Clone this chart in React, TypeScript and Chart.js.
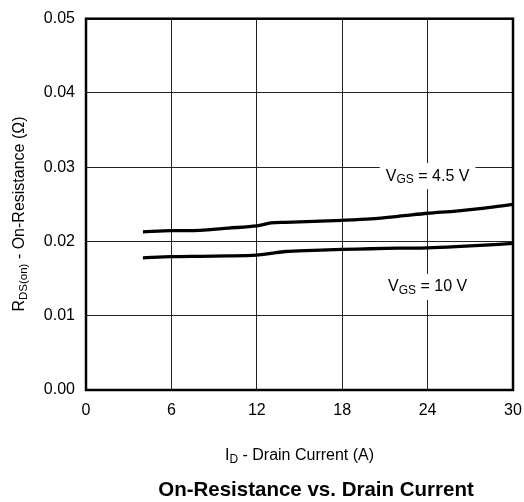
import React, { useEffect, useRef } from "react";
import { Chart, registerables } from "chart.js";

Chart.register(...registerables);

const currentA = [4, 6, 8, 10, 12, 13, 14, 16, 18, 20, 22, 24, 26, 28, 30];
const rds45 = [0.0213, 0.02145, 0.0215, 0.0218, 0.0221, 0.0225, 0.02258, 0.0227, 0.02285, 0.02305, 0.0234, 0.0238, 0.0241, 0.0245, 0.025];
const rds10 = [0.0178, 0.01795, 0.018, 0.01805, 0.01817, 0.0184, 0.01865, 0.0188, 0.01894, 0.01902, 0.0191, 0.01915, 0.0193, 0.0195, 0.01974];
const xTicks = [0, 6, 12, 18, 24, 30];
const yTicks = [0, 0.01, 0.02, 0.03, 0.04, 0.05];
const labelTexts = [
  { main: "V", sub: "GS", rest: " = 4.5 V", x: 24, y: 0.0288 },
  { main: "V", sub: "GS", rest: " = 10 V", x: 24, y: 0.01386 },
];

const FONT = "'Liberation Sans', Arial, Helvetica, sans-serif";

type Part = { t: string; sub?: boolean };

function richWidth(ctx: CanvasRenderingContext2D, parts: Part[], size: number, subSize: number) {
  let w = 0;
  for (const p of parts) {
    ctx.font = `${p.sub ? subSize : size}px ${FONT}`;
    w += ctx.measureText(p.t).width;
  }
  return w;
}

function drawRich(ctx: CanvasRenderingContext2D, parts: Part[], cx: number, cy: number, size: number, subSize: number, subShift: number) {
  const w = richWidth(ctx, parts, size, subSize);
  let x = cx - w / 2;
  ctx.textAlign = "left";
  ctx.textBaseline = "middle";
  ctx.fillStyle = "#000";
  for (const p of parts) {
    ctx.font = `${p.sub ? subSize : size}px ${FONT}`;
    ctx.fillText(p.t, x, p.sub ? cy + subShift : cy);
    x += ctx.measureText(p.t).width;
  }
  return w;
}

const decorPlugin = {
  id: "decor",
  afterDatasetsDraw(chart: any) {
    const ctx: CanvasRenderingContext2D = chart.ctx;
    const { left, right, top, bottom } = chart.chartArea;
    const xs = chart.scales.x;
    const ys = chart.scales.y;
    ctx.save();
    // labels with white boxes
    for (const l of labelTexts) {
      const cx = xs.getPixelForValue(l.x);
      const cy = ys.getPixelForValue(l.y);
      const parts: Part[] = [{ t: l.main }, { t: l.sub, sub: true }, { t: l.rest }];
      const w = richWidth(ctx, parts, 16, 12);
      ctx.fillStyle = "#fff";
      ctx.fillRect(cx - w / 2 - 6, cy - 13, w + 12, 26);
      drawRich(ctx, parts, cx, cy, 16, 12, 4);
    }
    // frame
    ctx.strokeStyle = "#000";
    ctx.lineWidth = 2.5;
    ctx.strokeRect(left, top, right - left, bottom - top);
    // x title
    drawRich(ctx, [{ t: "I" }, { t: "D", sub: true }, { t: " - Drain Current (A)" }], (left + right) / 2, 456, 16, 12, 4);
    // bottom title
    ctx.font = `bold 20.5px ${FONT}`;
    ctx.textAlign = "center";
    ctx.textBaseline = "middle";
    ctx.fillStyle = "#000";
    ctx.fillText("On-Resistance vs. Drain Current", 316, 490);
    // y title
    ctx.translate(20, 214);
    ctx.rotate(-Math.PI / 2);
    drawRich(ctx, [{ t: "R" }, { t: "DS(on)", sub: true }, { t: " - On-Resistance (Ω)" }], 0, 0, 16, 11.5, 4);
    ctx.restore();
  },
};

export default function App() {
  const ref = useRef<HTMLCanvasElement>(null);
  useEffect(() => {
    if (!ref.current) return;
    const chart = new Chart(ref.current, {
      type: "line",
      data: {
        labels: currentA,
        datasets: [
          {
            data: currentA.map((x, i) => ({ x, y: rds45[i] })),
            borderColor: "#000",
            borderWidth: 3.3,
            pointRadius: 0,
            tension: 0.3,
            fill: false,
          },
          {
            data: currentA.map((x, i) => ({ x, y: rds10[i] })),
            borderColor: "#000",
            borderWidth: 3.3,
            pointRadius: 0,
            tension: 0.3,
            fill: false,
          },
        ],
      },
      options: {
        responsive: false,
        animation: false,
        devicePixelRatio: 1,
        layout: { padding: { top: 18.7, right: 11, left: 0, bottom: 0 } },
        plugins: { legend: { display: false }, tooltip: { enabled: false }, title: { display: false } },
        scales: {
          x: {
            type: "linear",
            min: 0,
            max: 30,
            afterBuildTicks: (s: any) => {
              s.ticks = xTicks.map((v) => ({ value: v }));
            },
            afterFit: (s: any) => {
              s.height = 112;
              s.paddingLeft = 0;
              s.paddingRight = 0;
            },
            grid: { color: "#222", lineWidth: 1, drawTicks: false },
            border: { display: false },
            ticks: { color: "#000", padding: 11, font: { size: 16, family: FONT }, maxRotation: 0 },
          },
          y: {
            type: "linear",
            min: 0,
            max: 0.05,
            afterBuildTicks: (s: any) => {
              s.ticks = yTicks.map((v) => ({ value: v }));
            },
            afterFit: (s: any) => {
              s.width = 86;
              s.paddingTop = 0;
              s.paddingBottom = 0;
            },
            grid: { color: "#222", lineWidth: 1, drawTicks: false },
            border: { display: false },
            ticks: {
              color: "#000",
              padding: 11,
              font: { size: 16, family: FONT },
              callback: (v: any) => Number(v).toFixed(2),
            },
          },
        },
      },
      plugins: [decorPlugin],
    } as any);
    return () => chart.destroy();
  }, []);
  return (
    <div style={{ position: "absolute", left: 0, top: 0, width: 524, height: 502, background: "#fff" }}>
      <canvas ref={ref} width={524} height={502} style={{ display: "block" }} />
    </div>
  );
}
